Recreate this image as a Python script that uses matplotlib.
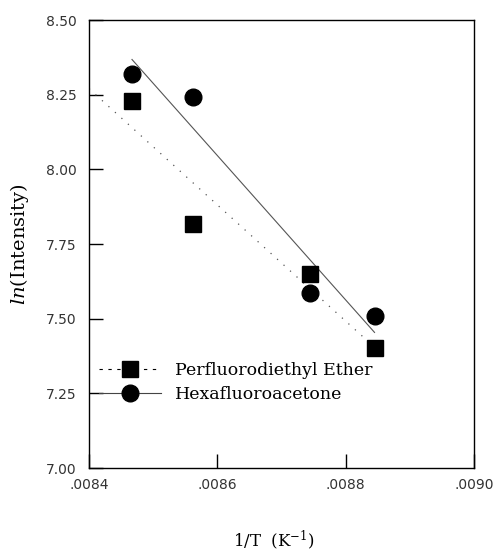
import numpy as np
import matplotlib.pyplot as plt
from matplotlib.lines import Line2D
from matplotlib.ticker import FixedLocator, FuncFormatter

plt.rcParams['mathtext.fontset'] = 'dejavuserif'

# 1/T values (K^-1) and ln(Intensity)
inv_t = [0.008467, 0.008562, 0.008744, 0.008845]
ln_perfluoro = [8.230, 7.817, 7.650, 7.403]
ln_hexafluoro = [8.319, 8.243, 7.587, 7.509]

labels = ['Perfluorodiethyl Ether', 'Hexafluoroacetone']
x_ticks = [0.0084, 0.0086, 0.0088, 0.0090]
y_ticks = [7.00, 7.25, 7.50, 7.75, 8.00, 8.25, 8.50]

fig = plt.figure(figsize=(5.01, 5.51), dpi=100)
ax = fig.add_axes([89 / 501, 1 - 468 / 551, 385 / 501, 448 / 551])

x = np.array(inv_t)

# linear fits
p1 = np.polyfit(x, ln_perfluoro, 1)
p2 = np.polyfit(x, ln_hexafluoro, 1)
xf1 = np.array([x_ticks[0], x[-1]])
xf2 = np.array([x[0], x[-1]])
ax.plot(xf1, np.polyval(p1, xf1), color='#555555', lw=0.9, ls=(0, (1, 6)))
ax.plot(xf2, np.polyval(p2, xf2), color='#555555', lw=0.8, ls='-')

ax.plot(x, ln_perfluoro, 's', color='black', ms=12, ls='none')
ax.plot(x, ln_hexafluoro, 'o', color='black', ms=12, ls='none')

ax.set_xlim(0.0084, 0.0090)
ax.set_ylim(7.0, 8.5)
ax.xaxis.set_major_locator(FixedLocator(x_ticks))
ax.yaxis.set_major_locator(FixedLocator(y_ticks))
ax.xaxis.set_major_formatter(FuncFormatter(lambda v, p: ('%.4f' % v)[1:]))
ax.yaxis.set_major_formatter(FuncFormatter(lambda v, p: '%.2f' % v))
ax.tick_params(direction='in', length=10, width=1, labelsize=10,
               labelcolor='#333333')
ax.tick_params(axis='y', pad=9)
ax.tick_params(axis='x', pad=7)
for s in ax.spines.values():
    s.set_linewidth(1)

ax.set_ylabel(r'$\mathit{ln}$(Intensity)', family='DejaVu Serif', fontsize=14)
ax.yaxis.set_label_coords(-0.15, 0.5)
ax.set_xlabel(r'1/T  (K$^{-1}$)', family='DejaVu Serif', fontsize=12)
ax.xaxis.set_label_coords(0.48, -0.135)

handles = [
    Line2D([], [], color='black', lw=0.8, ls=(0, (3, 5)), marker='s', ms=12),
    Line2D([], [], color='#444444', lw=0.8, ls='-', marker='o', ms=12,
           markerfacecolor='black', markeredgecolor='black'),
]
ax.legend(handles, labels, loc='center left', bbox_to_anchor=(0.025, 0.19),
          frameon=False, borderpad=0, borderaxespad=0, handlelength=3.6,
          handletextpad=0.8, labelspacing=0.4,
          prop={'family': 'DejaVu Serif', 'size': 12.5})

plt.savefig('out.png', dpi=100)
